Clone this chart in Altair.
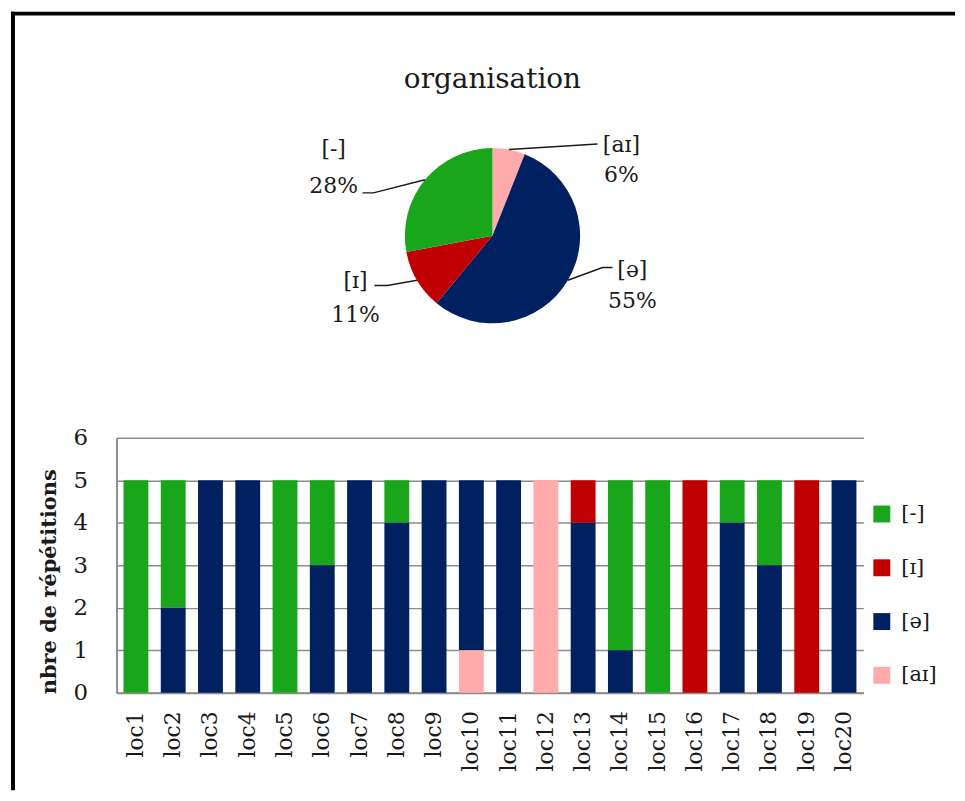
import math
import altair as alt
import pandas as pd

# ---------------- data ----------------
locs = [f"loc{i}" for i in range(1, 21)]
categories = ["[-]", "[ɪ]", "[ə]", "[aɪ]"]          # legend order
palette = ["#1AA61A", "#C00000", "#002060", "#FFABAB"]

n_dash  = [5, 3, 0, 0, 5, 2, 0, 1, 0, 0, 0, 0, 0, 4, 5, 0, 1, 2, 0, 0]
n_ih    = [0, 0, 0, 0, 0, 0, 0, 0, 0, 0, 0, 0, 1, 0, 0, 5, 0, 0, 5, 0]
n_schwa = [0, 2, 5, 5, 0, 3, 5, 4, 5, 4, 5, 0, 4, 1, 0, 0, 4, 3, 0, 5]
n_ai    = [0, 0, 0, 0, 0, 0, 0, 0, 0, 1, 0, 5, 0, 0, 0, 0, 0, 0, 0, 0]

y_ticks = [0, 1, 2, 3, 4, 5, 6]
stack_order = ["[aɪ]", "[ə]", "[ɪ]", "[-]"]   # bottom->top in bars, clockwise in pie

# ---------------- layout (style only) ----------------
W, PIE_H, BAR_H = 750, 240, 256
CX, CY, R = 377.5, 120, 88
PIE_LABEL = {   # (x, y of name line, y of percent line), offsets from pie centre
    "[aɪ]": (129.5, -91, -61),
    "[ə]": (140.5, 34, 66),
    "[ɪ]": (-137.5, 46, 80),
    "[-]": (-159.5, -87, -50),
}
LEADER = {      # elbow and end of leader lines, offsets from pie centre
    "[aɪ]": [(105.5, -92), (105.5, -92)],
    "[ə]": [(110.5, 32), (120.5, 32)],
    "[ɪ]": [(-105.5, 50), (-118.5, 50)],
    "[-]": [(-119.5, -43), (-130.5, -43)],
}
FONT = "DejaVu Serif"
TXT = "#1a1a1a"
GRID = "#8c8c8c"

# ---------------- tables ----------------
series = dict(zip(categories, [n_dash, n_ih, n_schwa, n_ai]))
rank = {c: i for i, c in enumerate(stack_order)}
bars = pd.DataFrame([
    dict(loc=l, cat=c, n=v, rank=rank[c])
    for c in categories for l, v in zip(locs, series[c]) if v > 0
])

totals = [sum(series[c]) for c in stack_order]
grand = sum(totals)
pie = pd.DataFrame({"cat": stack_order, "n": totals, "rank": list(range(len(stack_order)))})

lead_rows, text_rows = [], []
cum = 0
for c, t in zip(stack_order, totals):
    mid = (cum + t / 2) / grand * 2 * math.pi
    cum += t
    pts = [(CX + R * math.sin(mid), CY - R * math.cos(mid))] + \
          [(CX + dx, CY + dy) for dx, dy in LEADER[c]]
    for i, (x, y) in enumerate(pts):
        lead_rows.append(dict(cat=c, i=i, x=x, y=y))
    lx, ly1, ly2 = PIE_LABEL[c]
    text_rows.append(dict(t=c, x=CX + lx, y=CY + ly1))
    text_rows.append(dict(t=f"{round(100 * t / grand)}%", x=CX + lx, y=CY + ly2))
leads = pd.DataFrame(lead_rows)
texts = pd.DataFrame(text_rows)

color_scale = alt.Scale(domain=categories, range=palette)

# ---------------- pie panel ----------------
arc = alt.Chart(pie).mark_arc(outerRadius=R).encode(
    theta=alt.Theta("n:Q", stack=True),
    color=alt.Color("cat:N", scale=color_scale, legend=None),
    order=alt.Order("rank:Q"),
    x=alt.value(CX), y=alt.value(CY),
)
lines = alt.Chart(leads).mark_line(color=TXT, strokeWidth=1.5).encode(
    x=alt.X("x:Q", scale=None, axis=None),
    y=alt.Y("y:Q", scale=None, axis=None),
    detail="cat:N",
    order="i:Q",
)
labels = alt.Chart(texts).mark_text(fontSize=22, color=TXT, baseline="middle", align="center").encode(
    x=alt.X("x:Q", scale=None, axis=None),
    y=alt.Y("y:Q", scale=None, axis=None),
    text="t:N",
)
pie_panel = alt.layer(arc, lines, labels).properties(
    width=W, height=PIE_H,
    title=alt.TitleParams("organisation", fontSize=28, fontWeight="normal", color=TXT,
                          anchor="middle", frame="group", offset=0, baseline="alphabetic", dx=2.5),
)

# ---------------- bar panel ----------------
bar = alt.Chart(bars).mark_bar().encode(
    x=alt.X("loc:N", sort=locs, title=None,
            scale=alt.Scale(paddingInner=0.333, paddingOuter=0.187),
            axis=alt.Axis(labelAngle=-90, labelAlign="right", labelBaseline="middle",
                          labelPadding=18, ticks=False, labelFontSize=22, labelColor=TXT,
                          domainColor=GRID, domainWidth=2, grid=False)),
    y=alt.Y("n:Q", stack="zero", title="nbre de répétitions",
            scale=alt.Scale(domain=[0, 6], nice=False),
            axis=alt.Axis(values=y_ticks, ticks=False, grid=True, gridColor=GRID, gridWidth=1.5,
                          domainColor=GRID, domainWidth=2, labelPadding=29, labelFontSize=23,
                          labelColor=TXT, titleFontSize=21, titleFontWeight="bold",
                          titleColor=TXT, titlePadding=14, titleY=144)),
    color=alt.Color("cat:N", scale=color_scale,
                    legend=alt.Legend(title=None, orient="none", legendX=758, legendY=66,
                                      symbolType="square", symbolSize=289, symbolStrokeWidth=0,
                                      labelFontSize=21, labelColor=TXT, rowPadding=32,
                                      labelOffset=9, padding=0)),
    order=alt.Order("rank:Q", sort="ascending"),
)
one = pd.DataFrame({"k": [0]})
frame_top = alt.Chart(one).mark_rule(color="black", strokeWidth=4).encode(
    x=alt.value(-106), x2=alt.value(842), y=alt.value(-426))
frame_left = alt.Chart(one).mark_rule(color="black", strokeWidth=4).encode(
    x=alt.value(-104), y=alt.value(-428), y2=alt.value(354))
bar_panel = alt.layer(bar, frame_top, frame_left).properties(width=W, height=BAR_H)

chart = alt.vconcat(pie_panel, bar_panel, spacing=83, bounds="flush").resolve_scale(
    color="independent"
).properties(
    padding={"left": 1, "top": 0, "right": 0, "bottom": 0}
).configure(font=FONT).configure_view(stroke=None)

chart.save("out.html", embed_options={"renderer": "svg", "actions": False})
